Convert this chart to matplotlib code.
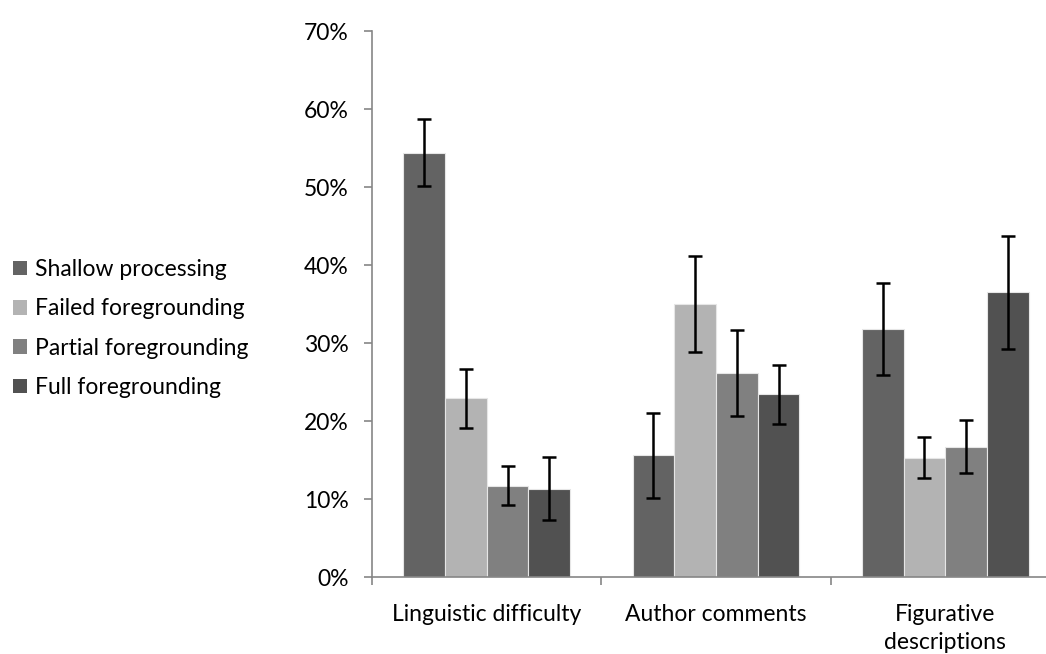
import numpy as np
import matplotlib.pyplot as plt
from matplotlib.ticker import PercentFormatter
from matplotlib.patches import Patch

plt.rcParams['font.family'] = ['Lato', 'DejaVu Sans']

categories = ['Linguistic difficulty', 'Author comments', 'Figurative\ndescriptions']
series = ['Shallow processing', 'Failed foregrounding', 'Partial foregrounding', 'Full foregrounding']

shallow = [54.4, 15.6, 31.8]
failed = [22.9, 35.0, 15.3]
partial = [11.7, 26.2, 16.7]
full = [11.3, 23.4, 36.5]

shallow_err = [4.3, 5.45, 5.85]
failed_err = [3.75, 6.1, 2.65]
partial_err = [2.5, 5.5, 3.4]
full_err = [4.05, 3.8, 7.25]

colors = ['#636363', '#b3b3b3', '#808080', '#515151']

values = [shallow, failed, partial, full]
errors = [shallow_err, failed_err, partial_err, full_err]

fs = 16.5

fig = plt.figure(figsize=(10.46, 6.54), dpi=100)
ax = fig.add_axes([372 / 1046, 1 - 577 / 654, 688 / 1046, 546 / 654])

x = np.arange(len(categories))
width = 0.182
for i, (vals, errs, col) in enumerate(zip(values, errors, colors)):
    pos = x + (i - 1.5) * width
    ax.bar(pos, vals, width, color=col, edgecolor='#e6e6e6', linewidth=0.8, zorder=2)
    ax.errorbar(pos, vals, yerr=errs, fmt='none', ecolor='black',
                elinewidth=1.8, capsize=5, capthick=1.8, zorder=3)

ax.set_xlim(-0.5, len(categories) - 0.5)
ax.set_ylim(0, 70)
ax.set_yticks(np.arange(0, 71, 10))
ax.yaxis.set_major_formatter(PercentFormatter(decimals=0))

# category ticks sit on the group boundaries, labels in the middle
ax.set_xticks(np.arange(len(categories) + 1) - 0.5)
ax.set_xticklabels([])
ax.set_xticks(x, minor=True)
ax.set_xticklabels(categories, minor=True, fontsize=fs, linespacing=1.38)
ax.tick_params(axis='x', which='minor', length=0, pad=19.5)
ax.tick_params(axis='x', which='major', length=6, color='#868686', width=1.2)
ax.tick_params(axis='y', length=6, color='#868686', width=1.2, labelsize=fs, pad=11)

for s in ['top', 'right']:
    ax.spines[s].set_visible(False)
for s in ['left', 'bottom']:
    ax.spines[s].set_color('#868686')
    ax.spines[s].set_linewidth(1.2)

handles = [Patch(facecolor=c, edgecolor='none') for c in colors]
fig.legend(handles, series, loc='center left', bbox_to_anchor=(0.0, 1 - 328.5 / 654),
           frameon=False, fontsize=fs, handlelength=0.62, handleheight=0.62,
           handletextpad=0.35, labelspacing=0.8, borderpad=0, borderaxespad=0.57)

fig.savefig('out.png', dpi=100)
